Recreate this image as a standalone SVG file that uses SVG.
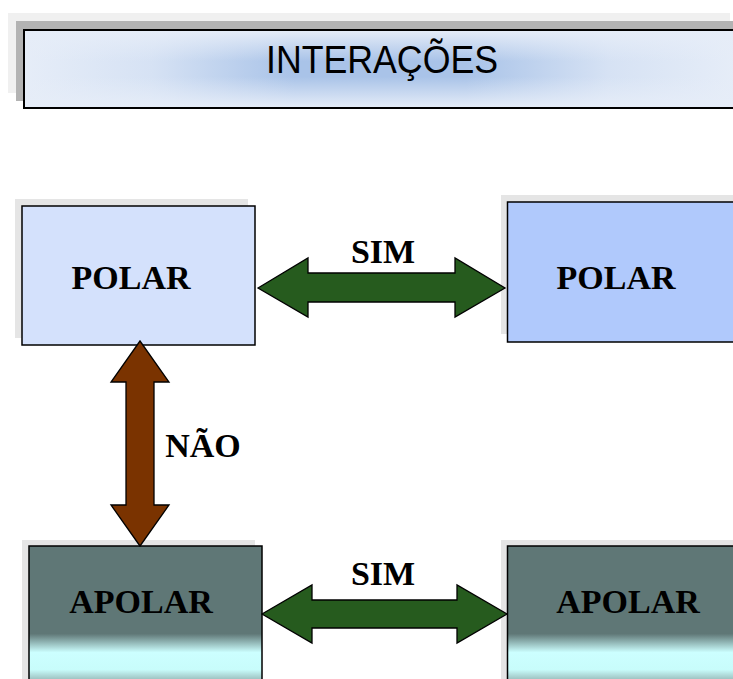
<svg xmlns="http://www.w3.org/2000/svg" width="733" height="679" viewBox="0 0 733 679">
  <defs>
    <linearGradient id="titleH" gradientUnits="userSpaceOnUse" x1="24" y1="0" x2="736" y2="0">
      <stop offset="0" stop-color="#e6edf8"/>
      <stop offset="0.18" stop-color="#d6e2f4"/>
      <stop offset="0.38" stop-color="#a9c3e8"/>
      <stop offset="0.62" stop-color="#a9c3e8"/>
      <stop offset="0.82" stop-color="#d6e2f4"/>
      <stop offset="1" stop-color="#e6edf8"/>
    </linearGradient>
    <linearGradient id="titleV" gradientUnits="userSpaceOnUse" x1="0" y1="30" x2="0" y2="108">
      <stop offset="0" stop-color="#e6edf8" stop-opacity="1"/>
      <stop offset="0.4" stop-color="#e6edf8" stop-opacity="0"/>
      <stop offset="0.6" stop-color="#e6edf8" stop-opacity="0"/>
      <stop offset="1" stop-color="#e6edf8" stop-opacity="1"/>
    </linearGradient>
    <linearGradient id="apolarGrad" x1="0" y1="546" x2="0" y2="679" gradientUnits="userSpaceOnUse">
      <stop offset="0" stop-color="#5f7776"/>
      <stop offset="0.66" stop-color="#5f7776"/>
      <stop offset="0.8" stop-color="#ccffff"/>
      <stop offset="0.93" stop-color="#c8fcfb"/>
      <stop offset="1" stop-color="#9fc4c3"/>
    </linearGradient>
    <style>
      .shadow { fill: #e5e5e5; }
      .box { stroke: #000; stroke-width: 1.5; }
      .lbl { font-family: "Liberation Serif", "Times New Roman", serif; font-weight: bold; font-size: 34px; fill: #000; text-anchor: middle; }
      .green { fill: #265b1e; stroke: #000; stroke-width: 1.3; stroke-linejoin: miter; }
      .brown { fill: #7a3300; stroke: #000; stroke-width: 1.3; stroke-linejoin: miter; }
    </style>
  </defs>
  <rect width="733" height="679" fill="#ffffff"/>

  <g id="title">
    <rect x="8" y="13" width="722" height="80" fill="#f0f0f0"/>
    <rect x="16" y="21" width="717" height="80" fill="#b3b3b3"/>
    <rect x="24" y="30" width="712" height="78" fill="url(#titleH)"/>
    <rect x="24" y="30" width="712" height="78" fill="url(#titleV)" stroke="#000" stroke-width="2"/>
    <text x="382" y="73" font-family="Liberation Sans, Arial, sans-serif" font-size="38" fill="#000" text-anchor="middle" textLength="232" lengthAdjust="spacingAndGlyphs">INTERAÇÕES</text>
  </g>

  <g id="polar-left">
    <rect class="shadow" x="15" y="199" width="233" height="139"/>
    <rect class="box" x="22" y="206" width="233" height="139" fill="#d4e1fc"/>
    <text class="lbl" x="131" y="289">POLAR</text>
  </g>

  <g id="polar-right">
    <rect class="shadow" x="501" y="195" width="232" height="139"/>
    <rect class="box" x="507.5" y="202" width="230" height="140" fill="#b0c9fc"/>
    <text class="lbl" x="616" y="289">POLAR</text>
  </g>

  <g id="apolar-left">
    <rect class="shadow" x="22" y="540" width="233" height="139"/>
    <rect class="box" x="29" y="546" width="233" height="140" fill="url(#apolarGrad)"/>
    <text class="lbl" x="141" y="613">APOLAR</text>
  </g>

  <g id="apolar-right">
    <rect class="shadow" x="501" y="540" width="232" height="139"/>
    <rect class="box" x="507.5" y="546" width="230" height="140" fill="url(#apolarGrad)"/>
    <text class="lbl" x="628" y="613">APOLAR</text>
  </g>

  <g id="connectors">
    <polygon class="green" points="258,288 308,258 308,273 455,273 455,258 505,288 455,317 455,302 308,302 308,317"/>
    <text class="lbl" x="383" y="263">SIM</text>
    <polygon class="green" points="262,614 312,585 312,600 457,600 457,585 507,614 457,643 457,628 312,628 312,643"/>
    <text class="lbl" x="383" y="585">SIM</text>
    <polygon class="brown" points="140,341 169,382 154,382 154,505 169,505 140,546 111,505 126,505 126,382 111,382"/>
    <text class="lbl" x="203" y="457">NÃO</text>
  </g>
</svg>
